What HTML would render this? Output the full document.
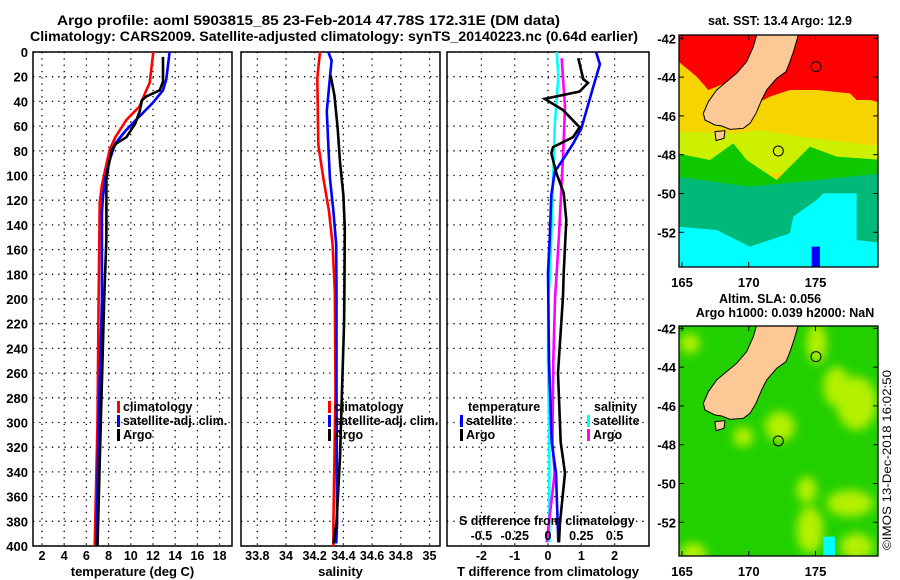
<!DOCTYPE html>
<html><head><meta charset="utf-8"><style>
html,body{margin:0;padding:0;background:#fff;}
svg{display:block;font-family:"Liberation Sans",sans-serif;font-weight:bold;}
</style></head><body>
<svg id="c" width="900" height="580" viewBox="0 0 900 580" xmlns="http://www.w3.org/2000/svg">
<defs>
<clipPath id="m1"><rect x="679" y="35" width="199" height="232"/></clipPath>
<clipPath id="m2"><rect x="679" y="326" width="199" height="230"/></clipPath>
<filter id="bl"><feGaussianBlur stdDeviation="14"/></filter>
</defs>
<text x="57" y="25" font-size="14" textLength="503" lengthAdjust="spacingAndGlyphs">Argo profile: aoml 5903815_85 23-Feb-2014 47.78S 172.31E (DM data)</text>
<text x="30" y="41" font-size="14" textLength="608" lengthAdjust="spacingAndGlyphs">Climatology: CARS2009. Satellite-adjusted climatology: synTS_20140223.nc (0.64d earlier)</text>
<g id="maps"></g>
<g id="plots"></g>
</svg>
<script>
// ---- data ----
const tempClimDepth=[0,25,31,44,55,69,79,95,108,122,200,300,400];
const tempClim=[12.03,11.7,11.4,10.8,9.6,8.6,8.1,7.7,7.4,7.2,7.1,7.0,6.75];
const tempSatDepth=[0,22,31,41,52,63,74,90,103,117,130,200,300,400];
const tempSat=[13.5,13.2,12.9,12.0,10.8,9.6,8.6,8.0,7.7,7.5,7.4,7.4,7.1,6.9];
const tempArgoDepth=[4,24,31,36,39,48,58,69,74,79,92,103,151,200,300,400];
const tempArgo=[12.9,12.9,12.6,11.4,11.0,10.8,10.4,9.6,8.7,8.3,8.0,7.8,7.8,7.6,7.3,7.0];
const salClimDepth=[0,21,75,102,129,156,194,274,381,400];
const salClim=[34.237,34.218,34.225,34.26,34.30,34.325,34.34,34.345,34.33,34.33];
const salSatDepth=[0,7,21,48,75,102,129,156,194,274,381,398];
const salSat=[34.295,34.318,34.306,34.284,34.295,34.306,34.33,34.35,34.352,34.352,34.356,34.35];
const salArgoDepth=[19,35,62,89,116,143,194,219,274,328,381,398];
const salArgo=[34.311,34.337,34.36,34.376,34.40,34.41,34.407,34.405,34.39,34.376,34.352,34.33];
const dTSatDepth=[0,10,28,47,62,74,85,97,116,152,179,250,316,341,397];
const dTSat=[1.44,1.56,1.36,1.16,1.0,0.76,0.5,0.2,0.1,0.05,0.0,0.03,0.11,0.24,0.31];
const dTArgoDepth=[5,22,25,32,38,47,61,69,77,82,98,114,136,179,198,260,316,341,381,397];
const dTArgo=[0.91,1.06,1.2,0.95,-0.1,0.45,0.95,0.75,0.15,0.1,0.25,0.47,0.55,0.47,0.45,0.3,0.38,0.51,0.36,0.33];
const dSSatDepth=[0,19,58,98,139,179,198,250,316,397];
const dSSat=[0.065,0.078,0.052,0.04,0.028,0.015,0.003,0.0,0.01,0.01];
const dSArgoDepth=[5,45,80,112,152,179,198,250,316,341,397];
const dSArgo=[0.103,0.128,0.115,0.1,0.08,0.065,0.053,0.04,0.033,0.05,-0.01];
const depthTicks=[0,20,40,60,80,100,120,140,160,180,200,220,240,260,280,300,320,340,360,380,400];
const tempTicks=[2,4,6,8,10,12,14,16,18];
const salTicks=[33.8,34,34.2,34.4,34.6,34.8,35];
const dTTicks=[-2,-1,0,1,2];
const dSTicks=[-0.5,-0.25,0,0.25,0.5];
const latTicks=[-42,-44,-46,-48,-50,-52];
const lonTicks=[165,170,175];

const NS="http://www.w3.org/2000/svg";
const plots=document.getElementById('plots');
const maps=document.getElementById('maps');
function mk(tag,attrs,parent,txt){const e=document.createElementNS(NS,tag);for(const k in attrs)e.setAttribute(k,attrs[k]);if(txt!==undefined)e.textContent=txt;parent.appendChild(e);return e;}
const Y0=52,Y1=546;
const yD=d=>Y0+d*(Y1-Y0)/400;
const xT=t=>42+(t-2)*11.1;
const xS=s=>314.7+(s-34.2)*143.5;
const xdT=t=>548+t*33.3;
const xdS=s=>548+s*133.2;

function panel(x0,x1,name,xticks,xf,labelFmt,axisTitle,showDepth){
  const g=mk('g',{},plots);
  
  
  depthTicks.forEach(d=>{const l=mk('line',{x1:x0,x2:x1,y1:yD(d),y2:yD(d),stroke:'#000','stroke-width':1.3,'stroke-dasharray':'1.3 5'},g);
    
    if(showDepth){const t=mk('text',{x:28,y:yD(d)+5,'font-size':13,'text-anchor':'end'},g,String(d));
      }});
  xticks.forEach(v=>{const l=mk('line',{x1:xf(v),x2:xf(v),y1:Y0,y2:Y1,stroke:'#000','stroke-width':1.3,'stroke-dasharray':'1.3 5'},g);
    
    const t=mk('text',{x:xf(v),y:560,'font-size':12.5,'text-anchor':'middle'},g,String(v));
    });
  const f=mk('rect',{x:x0,y:Y0,width:x1-x0,height:Y1-Y0,fill:'none',stroke:'#000','stroke-width':1.5},g);
  
  const at=mk('text',{x:(x0+x1)/2,y:576,'font-size':13,'text-anchor':'middle'},g,axisTitle);
  
  return g;
}
function series(g,depths,vals,xf,color,name){
  const p=mk('polyline',{points:depths.map((d,i)=>xf(vals[i]).toFixed(1)+','+yD(d).toFixed(1)).join(' '),fill:'none',stroke:color,'stroke-width':2.6,'stroke-linejoin':'miter'},g);
  
}
function legend(g,x,y,color,label,nm){
  const r=mk('rect',{x:x,y:y-10,width:3,height:12,fill:color},g);
  
  const t=mk('text',{x:x+6,y:y,'font-size':12.5},g,label);
  
}
const g1=panel(33,232,'temperature-panel',tempTicks,xT,null,'temperature (deg C)',true);
series(g1,tempClimDepth,tempClim,xT,'#f00','climatology-temp-line');
series(g1,tempSatDepth,tempSat,xT,'#00f','satellite-temp-line');
series(g1,tempArgoDepth,tempArgo,xT,'#000','argo-temp-line');
legend(g1,117,411,'#f00','climatology','legend-climatology');
legend(g1,117,425,'#00f','satellite-adj. clim.','legend-satellite');
legend(g1,117,439,'#000','Argo','legend-argo');

const g2=panel(241,440,'salinity-panel',salTicks,xS,null,'salinity',false);
series(g2,salClimDepth,salClim,xS,'#f00','climatology-sal-line');
series(g2,salSatDepth,salSat,xS,'#00f','satellite-sal-line');
series(g2,salArgoDepth,salArgo,xS,'#000','argo-sal-line');
legend(g2,328,411,'#f00','climatology','legend-climatology');
legend(g2,328,425,'#00f','satellite-adj. clim.','legend-satellite');
legend(g2,328,439,'#000','Argo','legend-argo');

const g3=panel(447,649,'difference-panel',dTTicks,xdT,null,'T difference from climatology',false);
series(g3,dSSatDepth,dSSat,xdS,'#0ff','satellite-sal-diff-line');
series(g3,dSArgoDepth,dSArgo,xdS,'#f0f','argo-sal-diff-line');
series(g3,dTSatDepth,dTSat,xdT,'#00f','satellite-temp-diff-line');
series(g3,dTArgoDepth,dTArgo,xdT,'#000','argo-temp-diff-line');
let t=mk('text',{x:468,y:411,'font-size':12.5},g3,'temperature');
legend(g3,460,425,'#00f','satellite','legend-temp-satellite');
legend(g3,460,439,'#000','Argo','legend-temp-argo');
t=mk('text',{x:594,y:411,'font-size':12.5},g3,'salinity');
legend(g3,587,425,'#0ff','satellite','legend-sal-satellite');
legend(g3,587,439,'#f0f','Argo','legend-sal-argo');
t=mk('text',{x:459,y:525,'font-size':12.5},g3,'S difference from climatology');
dSTicks.forEach(v=>{const e=mk('text',{x:xdS(v),y:540,'font-size':12.5,'text-anchor':'middle'},g3,String(v));
  });

// ---- maps ----
const land=[[320,105],[445,105],[432,150],[420,185],[408,215],[380,235],[350,270],[335,300],[318,340],[300,370],[280,385],[240,388],[215,378],[195,375],[165,360],[160,340],[175,305],[200,270],[230,245],[260,220],[290,185],[310,140]];
const pts=a=>a.map(p=>p.join(',')).join(' ');
function drawMap(oy,clip,name,sst){
  const g=mk('g',{},maps);
  const inner=mk('g',{'clip-path':'url(#'+clip+')'},g);
  const z=mk('g',{transform:'translate(650,'+oy+') scale(0.3333)'},inner);
  if(sst){
    mk('rect',{x:80,y:100,width:620,height:720,fill:'#f5d400'},z);
    mk('polygon',{points:'80,100 700,100 700,310 660,300 620,300 600,280 500,270 420,270 360,290 320,310 250,240 175,270 140,230 80,180',fill:'#f00'},z);
    mk('polygon',{points:'80,395 250,400 330,390 450,410 700,440 700,520 80,520',fill:'#ccf000'},z);
    mk('polygon',{points:'80,460 180,480 250,430 290,480 380,540 480,440 560,470 700,480 700,560 80,560',fill:'#10c800'},z);
    mk('polygon',{points:'80,530 300,560 700,520 700,820 80,820',fill:'#00b878'},z);
    mk('polygon',{points:'80,680 200,690 300,740 420,700 430,650 500,600 520,580 620,580 620,720 700,730 700,820 80,820',fill:'#0ff'},z);
    mk('rect',{x:485,y:740,width:25,height:60,fill:'#00f'},z);
  } else {
    mk('rect',{x:80,y:100,width:620,height:730,fill:'#22d000'},z);
    const b=mk('g',{filter:'url(#bl)'},z);
    [[620,340,60,80],[500,160,30,60],[560,290,40,60],[390,410,45,45],[480,720,40,70],[600,640,70,40],[120,160,30,30],[130,790,40,30],[620,770,50,40],[470,600,30,40],[280,440,30,30]].forEach(e=>mk('ellipse',{cx:e[0],cy:e[1],rx:e[2],ry:e[3],fill:'#b4f000'},b));
    mk('rect',{x:520,y:740,width:35,height:70,fill:'#0ff'},z);
  }
  const lp=mk('polygon',{points:pts(land),fill:'#fcc896',stroke:'#000','stroke-width':3},z);
  
  mk('polygon',{points:'195,395 225,392 222,415 198,422',fill:'#fcc896',stroke:'#000','stroke-width':3},z);
  mk('circle',{cx:498,cy:200,r:15,fill:'none',stroke:'#000','stroke-width':3},z);
  const c=mk('circle',{cx:385,cy:453,r:15,fill:'none',stroke:'#000','stroke-width':3},z);
  
  return g;
}
function mapAxes(g,top,bot,latY,lonY){
  const f=mk('rect',{x:679,y:top,width:199,height:bot-top,fill:'none',stroke:'#000','stroke-width':1.3},g);
  
  latTicks.forEach(v=>{const y=latY(v);mk('line',{x1:679,x2:684,y1:y,y2:y,stroke:'#000'},g);mk('line',{x1:873,x2:878,y1:y,y2:y,stroke:'#000'},g);
    const e=mk('text',{x:676,y:y+5,'font-size':13,'text-anchor':'end'},g,String(v));});
  lonTicks.forEach(v=>{const x=682+(v-165)*13.35;mk('line',{x1:x,x2:x,y1:bot,y2:bot-5,stroke:'#000'},g);mk('line',{x1:x,x2:x,y1:top,y2:top+5,stroke:'#000'},g);
    const e=mk('text',{x:x,y:lonY,'font-size':13,'text-anchor':'middle'},g,String(v));});
}
const mg1=drawMap(0,'m1','sst-map',true);
mapAxes(mg1,35,267,v=>38.3+(-42-v)*19.4,287);
let e=mk('text',{x:780,y:25,'font-size':12.5,'text-anchor':'middle'},mg1,'sat. SST: 13.4 Argo: 12.9');
const mg2=drawMap(290,'m2','sla-map',false);
mapAxes(mg2,326,556,v=>328.3+(-42-v)*19.4,576);
e=mk('text',{x:770,y:303,'font-size':12.5,'text-anchor':'middle'},mg2,'Altim. SLA: 0.056');
e=mk('text',{x:785,y:317,'font-size':12.5,'text-anchor':'middle'},mg2,'Argo h1000: 0.039 h2000: NaN');
e=mk('text',{x:0,y:0,'font-size':12,'font-weight':'normal',textLength:180,lengthAdjust:'spacingAndGlyphs',transform:'translate(891,550) rotate(-90)'},maps,'©IMOS 13-Dec-2018 16:02:50');

</script>
</body></html>
